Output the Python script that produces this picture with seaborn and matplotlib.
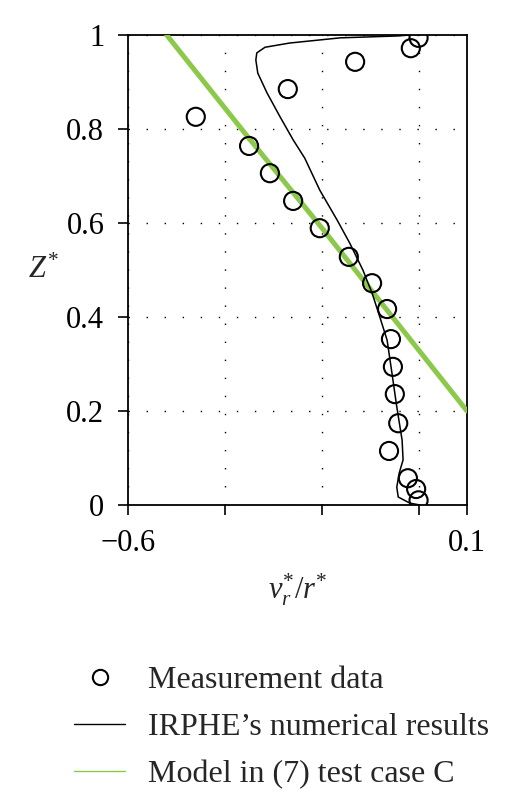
import matplotlib
matplotlib.use("Agg")
import matplotlib.pyplot as plt
from matplotlib.lines import Line2D
import pandas as pd
import seaborn as sns

# measured points (v_r*/r*, Z*)
meas_x = [0.0, -0.016, -0.131, -0.27, -0.46, -0.35, -0.307, -0.259, -0.204, -0.144,
          -0.096, -0.065, -0.057, -0.053, -0.049, -0.042, -0.061, -0.022, -0.005, 0.0]
meas_z = [0.994, 0.972, 0.943, 0.885, 0.826, 0.764, 0.706, 0.647, 0.589, 0.528,
          0.472, 0.417, 0.353, 0.294, 0.236, 0.174, 0.115, 0.057, 0.034, 0.01]

# IRPHE numerical results
irphe_x = [0.003, -0.018, -0.042, -0.045, -0.040, -0.032, -0.034, -0.045, -0.055, -0.065,
           -0.080, -0.096, -0.115, -0.142, -0.168, -0.204, -0.235, -0.259, -0.286, -0.313,
           -0.332, -0.336, -0.334, -0.317, -0.266, -0.162, -0.045, -0.018]
irphe_z = [0.0, 0.004, 0.017, 0.038, 0.068, 0.096, 0.138, 0.209, 0.281, 0.351,
           0.400, 0.451, 0.500, 0.557, 0.606, 0.670, 0.738, 0.777, 0.826, 0.877,
           0.919, 0.947, 0.962, 0.974, 0.983, 0.994, 0.998, 1.0]

# model (7), test case C
model_x = [-0.52, -0.35, -0.2, 0.0, 0.1]
model_z = [1.0, 0.78, 0.59, 0.33, 0.2]

xticks = [-0.6, -0.4, -0.2, 0.0, 0.1]
xticklabels = ["\u22120.6", "", "", "", "0.1"]
yticks = [0, 0.2, 0.4, 0.6, 0.8, 1.0]
yticklabels = ["0", "0.2", "0.4", "0.6", "0.8", "1"]

green = "#8cc94a"

sns.set_style("white")
plt.rcParams["font.family"] = ["Liberation Serif", "DejaVu Serif"]
plt.rcParams["mathtext.fontset"] = "custom"
plt.rcParams["mathtext.it"] = "Liberation Serif:italic"
plt.rcParams["mathtext.rm"] = "Liberation Serif"

meas = pd.DataFrame({"x": meas_x, "z": meas_z})
irphe = pd.DataFrame({"x": irphe_x, "z": irphe_z})
model = pd.DataFrame({"x": model_x, "z": model_z})

fig = plt.figure(figsize=(5.19, 8.11), dpi=100)
ax = fig.add_axes([0.2466, 0.3773, 0.6532, 0.5795])

sns.lineplot(data=model, x="x", y="z", sort=False, estimator=None, ax=ax,
             color=green, linewidth=3.6, zorder=3, legend=False)
sns.lineplot(data=irphe, x="x", y="z", sort=False, estimator=None, ax=ax,
             color="black", linewidth=1.1, zorder=4, legend=False)
sns.scatterplot(data=meas, x="x", y="z", ax=ax, marker="o", s=170,
                facecolor="none", edgecolor="black", linewidth=1.5, zorder=5,
                legend=False)

ax.set_xlim(-0.6, 0.1)
ax.set_ylim(0, 1)
ax.set_xticks(xticks)
ax.set_xticklabels(xticklabels)
ax.set_yticks(yticks)
ax.set_yticklabels(yticklabels)
ax.tick_params(direction="out", length=7, width=1.2, labelsize=22, pad=10,
               bottom=True, left=True, colors="black")
ax.grid(True, color="black", linestyle=(0, (1, 12)), linewidth=1.0)
for s in ax.spines.values():
    s.set_color("black")
    s.set_linewidth(1.3)

ax.set_xlabel(r"$v_r^{*}/r^{*}$", fontsize=22, labelpad=10)
ax.set_ylabel(r"$Z^{*}$", fontsize=22, rotation=0, va="center", ha="center")
ax.yaxis.set_label_coords(-0.25, 0.50)

handles = [
    Line2D([], [], linestyle="none", marker="o", markersize=11,
           markerfacecolor="none", markeredgecolor="black", markeredgewidth=1.5),
    Line2D([], [], color="black", linewidth=1.0),
    Line2D([], [], color=green, linewidth=1.0),
]
labels = ["Measurement data", "IRPHE\u2019s numerical results", "Model in (7) test case C"]
ax.legend(handles, labels, loc="upper left",
          bbox_to_anchor=(0.143, 0.179), bbox_transform=fig.transFigure,
          frameon=False, fontsize=23, handlelength=1.6, handletextpad=0.7,
          labelspacing=0.55, borderaxespad=0, borderpad=0)

fig.savefig("out.png", dpi=100)
